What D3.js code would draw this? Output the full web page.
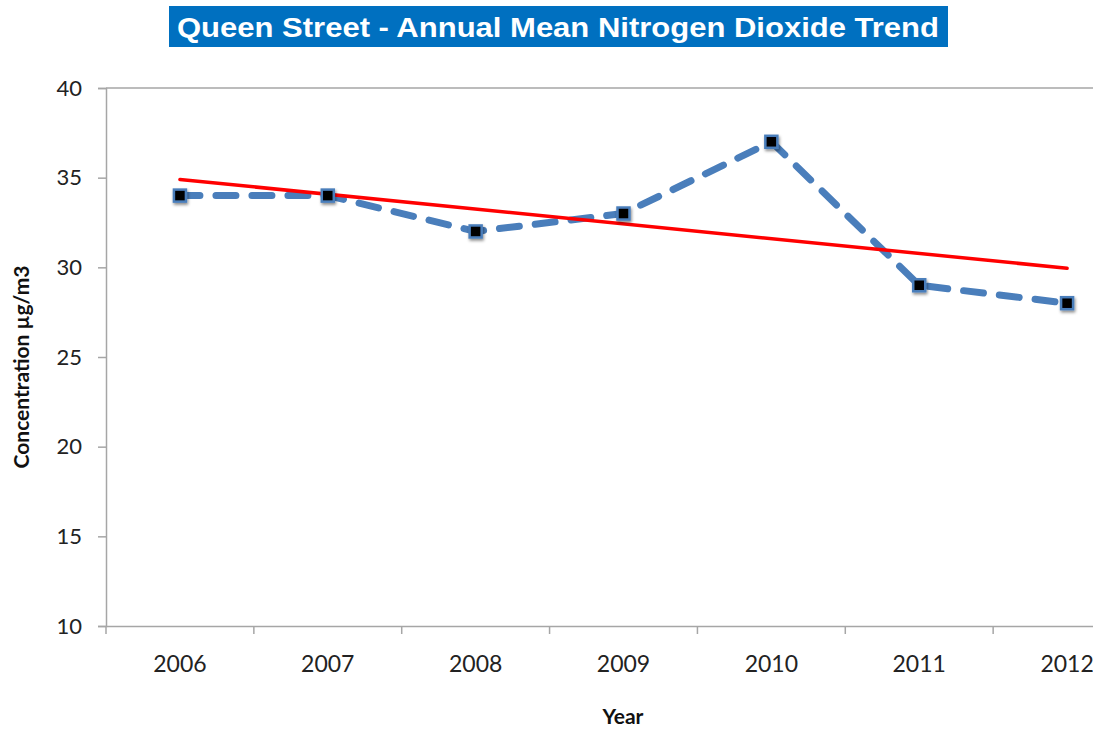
<!DOCTYPE html>
<html>
<head>
<meta charset="utf-8">
<script src="https://cdn.jsdelivr.net/npm/d3@7"></script>
<style>
  body { margin: 0; background: #fff; }
  svg { display: block; }
</style>
</head>
<body>
<div id="chart"></div>
<script>
// Queen Street NO2 data
const years = ["2006", "2007", "2008", "2009", "2010", "2011", "2012"];
const no2Values = [34, 34, 32, 33, 37, 29, 28];
// trend line end values
const trendYears = ["2006", "2012"];
const trendValues = [34.9, 29.95];
const yTicks = [10, 15, 20, 25, 30, 35, 40];

const W = 1093, H = 729;
const margin = { top: 88, left: 106 };
const plotW = 1035;   // plot runs past the right edge of the image
const plotH = 538;

const svg = d3.select("#chart").append("svg")
  .attr("width", W)
  .attr("height", H);

const defs = svg.append("defs");
const shadow = defs.append("filter").attr("id", "shadow")
  .attr("x", "-50%").attr("y", "-50%").attr("width", "200%").attr("height", "200%");
shadow.append("feDropShadow")
  .attr("dx", 1).attr("dy", 2).attr("stdDeviation", 1.5)
  .attr("flood-color", "#000").attr("flood-opacity", 0.45);

const g = svg.append("g")
  .attr("transform", `translate(${margin.left},${margin.top})`);

const x = d3.scaleBand()
  .domain(years)
  .range([0, plotW]);

const y = d3.scaleLinear()
  .domain([10, 40])
  .range([plotH, 0]);

const cx = d => x(d) + x.bandwidth() / 2;

// top border of plot area
g.append("line")
  .attr("x1", 0).attr("x2", plotW)
  .attr("y1", 0).attr("y2", 0)
  .attr("stroke", "#a6a6a6").attr("stroke-width", 1.5);

// y axis
const yAxis = g.append("g")
  .call(d3.axisLeft(y).tickValues(yTicks).tickSize(8).tickPadding(16));
yAxis.select(".domain").attr("stroke", "#a6a6a6").attr("stroke-width", 1.5);
yAxis.selectAll(".tick line").attr("stroke", "#a6a6a6").attr("stroke-width", 1.5);
yAxis.selectAll(".tick text")
  .attr("fill", "#222")
  .style("font-family", "Lato, 'Open Sans', sans-serif")
  .style("font-size", "22px");

// x axis, ticks sit between categories
const xAxis = g.append("g")
  .attr("transform", `translate(0,${plotH})`)
  .call(d3.axisBottom(x).tickSize(0).tickPadding(30));
xAxis.select(".domain").attr("stroke", "#a6a6a6").attr("stroke-width", 1.5);
xAxis.selectAll(".tick text")
  .attr("fill", "#222")
  .style("font-family", "Lato, 'Open Sans', sans-serif")
  .style("font-size", "23px");

g.append("g").selectAll("line")
  .data(years)
  .enter().append("line")
  .attr("x1", d => x(d)).attr("x2", d => x(d))
  .attr("y1", plotH).attr("y2", plotH + 8)
  .attr("stroke", "#a6a6a6").attr("stroke-width", 1.5);

// series line
const line = d3.line()
  .x((d, i) => cx(years[i]))
  .y(d => y(d));

g.append("path")
  .datum(no2Values)
  .attr("fill", "none")
  .attr("stroke", "#4a7ebb")
  .attr("stroke-width", 7)
  .attr("stroke-linecap", "round")
  .attr("stroke-linejoin", "round")
  .attr("stroke-dasharray", "20,16")
  .attr("d", line);

// trend line
g.append("path")
  .datum(trendValues)
  .attr("fill", "none")
  .attr("stroke", "#ff0000")
  .attr("stroke-width", 3.5)
  .attr("stroke-linecap", "round")
  .attr("d", d3.line().x((d, i) => cx(trendYears[i])).y(d => y(d)));

// markers
g.append("g").selectAll("rect")
  .data(no2Values)
  .enter().append("rect")
  .attr("x", (d, i) => cx(years[i]) - 6)
  .attr("y", d => y(d) - 6)
  .attr("width", 12).attr("height", 12)
  .attr("fill", "#000")
  .attr("stroke", "#4a7ebb")
  .attr("stroke-width", 2.5)
  .attr("filter", "url(#shadow)");

// axis titles
svg.append("text")
  .attr("transform", `translate(29,367) rotate(-90)`)
  .attr("text-anchor", "middle")
  .style("font-family", "Lato, 'Open Sans', sans-serif")
  .style("font-weight", "bold")
  .style("font-size", "21px")
  .attr("fill", "#111")
  .text("Concentration µg/m3");

svg.append("text")
  .attr("x", 623).attr("y", 724)
  .attr("text-anchor", "middle")
  .style("font-family", "Lato, 'Open Sans', sans-serif")
  .style("font-weight", "bold")
  .style("font-size", "21px")
  .attr("fill", "#111")
  .text("Year");

// title box
svg.append("rect")
  .attr("x", 169).attr("y", 6)
  .attr("width", 779).attr("height", 41)
  .attr("fill", "#0070c0");

svg.append("text")
  .attr("x", 558).attr("y", 37)
  .attr("text-anchor", "middle")
  .attr("textLength", 762)
  .attr("lengthAdjust", "spacingAndGlyphs")
  .style("font-family", "'Liberation Sans', Arial, sans-serif")
  .style("font-weight", "bold")
  .style("font-size", "28px")
  .attr("fill", "#fff")
  .text("Queen Street - Annual Mean Nitrogen Dioxide Trend");
</script>
</body>
</html>
